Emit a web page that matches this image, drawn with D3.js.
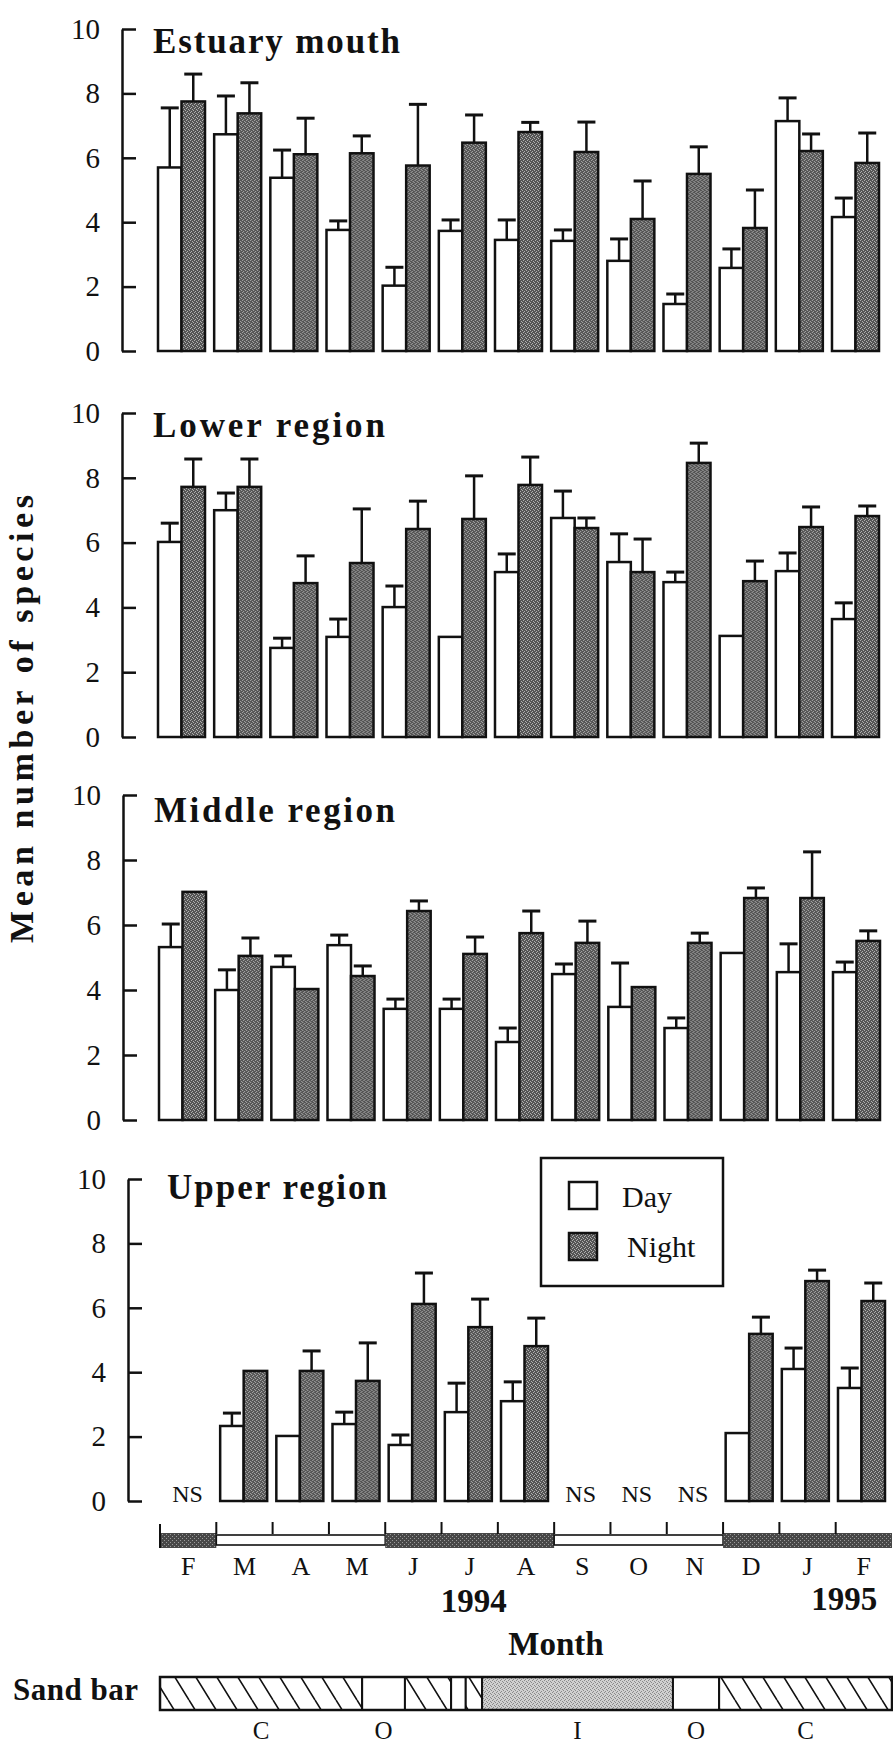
<!DOCTYPE html>
<html><head><meta charset="utf-8">
<script src="https://cdn.jsdelivr.net/npm/d3@7"></script>
<style>
body{margin:0;background:#fff}
svg{display:block}
text{font-family:"Liberation Serif","Times New Roman",serif;fill:#111}
</style>
</head><body><div id="chart"></div>
<script>
// ---------- DATA ----------
const months = ["F","M","A","M","J","J","A","S","O","N","D","J","F"];
const regions = ["Estuary mouth","Lower region","Middle region","Upper region"];
const yTicks = [0,2,4,6,8,10];
const seriesNames = ["Day","Night"];

// Estuary mouth
const estuaryDay      = [5.70,6.73,5.38,3.76,2.03,3.73,3.45,3.42,2.80,1.46,2.58,7.14,4.16];
const estuaryDayErr   = [1.85,1.19,0.86,0.28,0.57,0.34,0.62,0.34,0.68,0.31,0.59,0.72,0.59];
const estuaryNight    = [7.75,7.38,6.11,6.14,5.76,6.47,6.80,6.18,4.10,5.50,3.82,6.21,5.84];
const estuaryNightErr = [0.85,0.95,1.12,0.54,1.90,0.86,0.30,0.93,1.18,0.84,1.18,0.53,0.93];
// Lower region
const lowerDay      = [6.02,7.00,2.75,3.09,4.01,3.09,5.09,6.76,5.40,4.78,3.12,5.12,3.64];
const lowerDayErr   = [0.58,0.53,0.30,0.55,0.65,0.00,0.56,0.83,0.87,0.31,0.00,0.56,0.50];
const lowerNight    = [7.72,7.72,4.75,5.37,6.42,6.73,7.78,6.45,5.09,8.46,4.81,6.48,6.82];
const lowerNightErr = [0.86,0.86,0.84,1.67,0.86,1.33,0.86,0.31,1.02,0.61,0.62,0.62,0.31];
// Middle region
const middleDay      = [5.32,4.00,4.71,5.38,3.42,3.42,2.40,4.49,3.48,2.83,5.14,4.55,4.55];
const middleDayErr   = [0.71,0.62,0.34,0.31,0.30,0.30,0.43,0.31,1.35,0.31,0.00,0.87,0.31];
const middleNight    = [7.02,5.05,4.03,4.43,6.43,5.11,5.75,5.45,4.09,5.45,6.83,6.83,5.51];
const middleNightErr = [0.00,0.55,0.00,0.31,0.31,0.52,0.68,0.67,0.00,0.30,0.31,1.42,0.31];
// Upper region (null = not sampled, NS)
const upperDay      = [null,2.33,2.02,2.39,1.74,2.76,3.10,null,null,null,2.11,4.10,3.51];
const upperDayErr   = [null,0.40,0.00,0.37,0.31,0.90,0.60,null,null,null,0.00,0.65,0.62];
const upperNight    = [null,4.04,4.04,3.73,6.12,5.40,4.81,null,null,null,5.19,6.83,6.21];
const upperNightErr = [null,0.00,0.62,1.18,0.96,0.87,0.87,null,null,null,0.52,0.34,0.56];

// Season band (month units from start of Feb 1994)
const seasonBreaks = [0,1,4,7,10,13];
const seasonDark   = [true,false,true,false,true];
// Sand bar state (C closed, O open, I intermittent), month units
const sandBreaks = [0,3.59,4.35,5.17,5.43,5.72,9.11,9.93,13];
const sandStates = ["C","O","C","O","C","I","O","C"];
const sandLabelSegments = [0,1,5,6,7];

// ---------- LAYOUT ----------
const W = 893, H = 1745;
const panelTop    = [29, 413, 795, 1179];
const panelBottom = [351, 737, 1120, 1501];
const panelShift  = [0, 0, 1, 6];
const titleX      = [153, 153, 154, 167];
const titleLen    = [247, 232, 241, 220];
const titleDy     = [24, 24, 27, 20];
const axisX = 122;
const SERIF = '"Liberation Serif","Times New Roman",serif';

const panels = [
  [estuaryDay, estuaryDayErr, estuaryNight, estuaryNightErr],
  [lowerDay, lowerDayErr, lowerNight, lowerNightErr],
  [middleDay, middleDayErr, middleNight, middleNightErr],
  [upperDay, upperDayErr, upperNight, upperNightErr]
];

const svg = d3.select("#chart").append("svg").attr("width", W).attr("height", H)
  .attr("font-family", SERIF);
const defs = svg.append("defs");

function stipple(id, base, dot, pts, size) {
  const p = defs.append("pattern").attr("id", id).attr("patternUnits","userSpaceOnUse")
    .attr("width", size).attr("height", size);
  p.append("rect").attr("width", size).attr("height", size).attr("fill", base);
  pts.forEach(([a,b]) => p.append("rect").attr("x",a).attr("y",b).attr("width",1).attr("height",1).attr("fill",dot));
}
stipple("nightFill", "#555555", "#b0b0b0", [[0,0],[2,1],[1,3],[3,2]], 4);
stipple("seasonFill", "#474747", "#9a9a9a", [[0,0],[2,2]], 4);
stipple("interFill", "#d0d0d0", "#8a8a8a", [[0,0],[2,1],[1,3],[3,2]], 4);
const hatch = defs.append("pattern").attr("id","hatch").attr("patternUnits","userSpaceOnUse")
  .attr("width",21).attr("height",34);
hatch.append("rect").attr("width",21).attr("height",34).attr("fill","#fff");
hatch.append("path").attr("d","M0,0L21,34M-21,0L0,34M21,0L42,34").attr("stroke","#111").attr("stroke-width",1.6);

const x = d3.scaleBand().domain(d3.range(months.length)).range([158, 879]).paddingInner(0.163);
const xs = d3.scaleBand().domain(seriesNames).range([0, x.bandwidth()]);
const capW = 18;

panels.forEach((pd, p) => {
  const [dayV, dayE, nightV, nightE] = pd;
  const y = d3.scaleLinear().domain([0,10]).range([panelBottom[p], panelTop[p]]);
  const g = svg.append("g").attr("transform", `translate(${panelShift[p]},0)`);

  const ax = g.append("g").attr("transform", `translate(${axisX},0)`)
    .call(d3.axisLeft(y).tickValues(yTicks).tickSizeInner(-14).tickSizeOuter(0).tickPadding(22).tickFormat(d3.format("d")));
  ax.attr("font-family", SERIF).attr("font-size", 29);
  ax.selectAll("path,line").attr("stroke","#111").attr("stroke-width",2.5);
  ax.selectAll("text").attr("fill","#111");

  g.append("text").attr("x", titleX[p] - panelShift[p]).attr("y", panelTop[p] + titleDy[p])
    .attr("font-size", 35).attr("font-weight","bold")
    .attr("textLength", titleLen[p]).attr("lengthAdjust","spacing")
    .text(regions[p]);

  const rows = months.map((m,i) => ({i, vals: [
    {s:"Day", v: dayV[i], e: dayE[i]},
    {s:"Night", v: nightV[i], e: nightE[i]}
  ]}));

  const grp = g.selectAll(".grp").data(rows).join("g").attr("class","grp")
    .attr("transform", d => `translate(${x(d.i)},0)`);

  grp.each(function(d) {
    const gg = d3.select(this);
    const present = d.vals.filter(o => o.v !== null);
    if (!present.length) {
      gg.append("text").attr("x", x.bandwidth()/2).attr("y", y(0) + 1)
        .attr("text-anchor","middle").attr("font-size",24).text("NS");
      return;
    }
    present.forEach(o => {
      const cx = xs(o.s) + xs.bandwidth()/2;
      if (o.e > 0) {
        gg.append("line").attr("x1",cx).attr("x2",cx).attr("y1",y(o.v)).attr("y2",y(o.v+o.e))
          .attr("stroke","#111").attr("stroke-width",2.5);
        gg.append("line").attr("x1",cx-capW/2).attr("x2",cx+capW/2).attr("y1",y(o.v+o.e)).attr("y2",y(o.v+o.e))
          .attr("stroke","#111").attr("stroke-width",3);
      }
    });
    present.forEach(o => {
      gg.append("rect").attr("x", xs(o.s)).attr("y", y(o.v))
        .attr("width", xs.bandwidth()).attr("height", y(0) - y(o.v))
        .attr("fill", o.s === "Day" ? "#fff" : "url(#nightFill)")
        .attr("stroke","#111").attr("stroke-width",2.5);
    });
  });
});

// ---------- LEGEND ----------
const lg = svg.append("g");
lg.append("rect").attr("x",541).attr("y",1158).attr("width",182).attr("height",128)
  .attr("fill","#fff").attr("stroke","#111").attr("stroke-width",2.5);
seriesNames.forEach((s,i) => {
  lg.append("rect").attr("x",569).attr("y",1182 + i*51).attr("width",28).attr("height",27)
    .attr("fill", s === "Day" ? "#fff" : "url(#nightFill)").attr("stroke","#111").attr("stroke-width",2.5);
  lg.append("text").attr("x", 622 + i*5).attr("y", 1207 + i*50).attr("font-size",30).text(s);
});

// ---------- Y TITLE ----------
svg.append("text").attr("transform","translate(33,719) rotate(-90)")
  .attr("text-anchor","middle").attr("font-size",34).attr("font-weight","bold")
  .attr("textLength",448).attr("lengthAdjust","spacing")
  .text("Mean number of species");

// ---------- MONTH AXIS ----------
const xm = d3.scaleLinear().domain([0,13]).range([160, 892]);
const mg = svg.append("g");
seasonDark.forEach((dark,k) => {
  const a = xm(seasonBreaks[k]), b = xm(seasonBreaks[k+1]);
  if (dark) {
    mg.append("rect").attr("x",a).attr("y",1533).attr("width",b-a).attr("height",15)
      .attr("fill","url(#seasonFill)");
  } else {
    mg.append("rect").attr("x",a).attr("y",1535).attr("width",b-a).attr("height",10)
      .attr("fill","#fff").attr("stroke","#111").attr("stroke-width",1.6);
  }
});
d3.range(1,13).forEach(m => {
  mg.append("line").attr("x1",xm(m)).attr("x2",xm(m)).attr("y1",1522).attr("y2",1534)
    .attr("stroke","#111").attr("stroke-width",2);
});
mg.append("line").attr("x1",xm(0)).attr("x2",xm(0)).attr("y1",1524).attr("y2",1548)
  .attr("stroke","#111").attr("stroke-width",2);
months.forEach((m,i) => {
  mg.append("text").attr("x", xm(i+0.5)).attr("y",1575).attr("text-anchor","middle")
    .attr("font-size",26).text(m);
});
mg.append("text").attr("x", xm(5.57)).attr("y",1612).attr("text-anchor","middle")
  .attr("font-size",33).attr("font-weight","bold").text("1994");
mg.append("text").attr("x", xm(12.15)).attr("y",1610).attr("text-anchor","middle")
  .attr("font-size",33).attr("font-weight","bold").text("1995");
mg.append("text").attr("x", 556).attr("y",1655).attr("text-anchor","middle")
  .attr("font-size",33).attr("font-weight","bold").text("Month");

// ---------- SAND BAR ----------
const sg = svg.append("g");
sg.append("text").attr("x",13).attr("y",1700).attr("font-size",31).attr("font-weight","bold")
  .attr("textLength",125).attr("lengthAdjust","spacing").text("Sand bar");
const sandFill = {C:"url(#hatch)", O:"#fff", I:"url(#interFill)"};
sandStates.forEach((st,k) => {
  const a = xm(sandBreaks[k]), b = xm(sandBreaks[k+1]);
  sg.append("rect").attr("x",a).attr("y",1677).attr("width",b-a).attr("height",33)
    .attr("fill", sandFill[st]).attr("stroke","#111").attr("stroke-width",2);
});
sg.append("rect").attr("x",xm(0)).attr("y",1677).attr("width",xm(13)-xm(0)).attr("height",33)
  .attr("fill","none").attr("stroke","#111").attr("stroke-width",2.5);
sandLabelSegments.forEach(k => {
  sg.append("text").attr("x", xm((sandBreaks[k]+sandBreaks[k+1])/2)).attr("y",1739)
    .attr("text-anchor","middle").attr("font-size",25).text(sandStates[k]);
});
</script>
</body></html>
